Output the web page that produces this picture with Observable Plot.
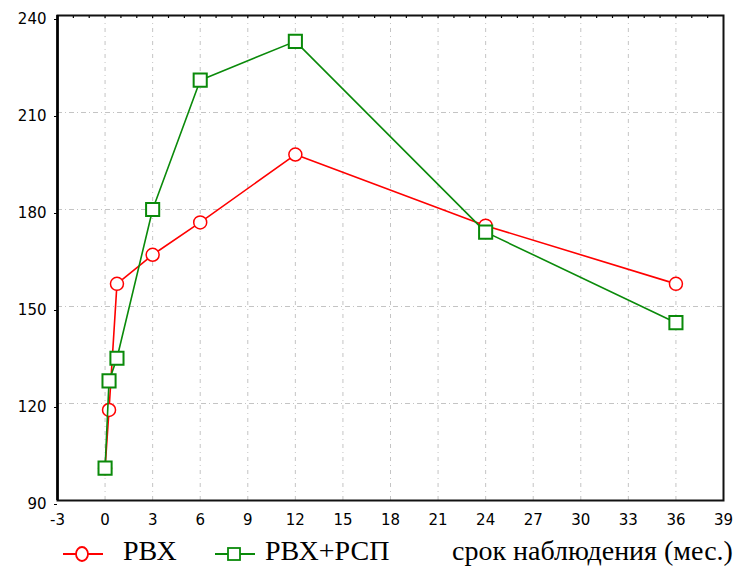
<!DOCTYPE html>
<html>
<head>
<meta charset="utf-8">
<script src="https://cdn.jsdelivr.net/npm/d3@7"></script>
<script src="https://cdn.jsdelivr.net/npm/@observablehq/plot@0.6"></script>
<style>
  body { margin: 0; background: #fff; }
  #wrap { position: relative; width: 738px; height: 567px; overflow: hidden; }
  #wrap svg.plot { position: absolute; left: 0; top: 0; }
  .leg { position: absolute; font-family: "Liberation Serif", "Times New Roman", serif;
         font-size: 28px; line-height: 28px; color: #000; white-space: nowrap; }
  .sw { position: absolute; }
</style>
</head>
<body>
<div id="wrap"></div>
<script>
// Observation times (months) and mean values for both groups
const months = [0, 0.25, 0.75, 3, 6, 12, 24, 36];
const rvh = [100, 118, 157, 166, 176, 197, 175, 157];
const rvhRsp = [100, 127, 134, 180, 220, 232, 173, 145];
const seriesNames = ["РВХ", "РВХ+РСП"];
const axisTitle = "срок наблюдения (мес.)";
const xTicks = d3.range(-3, 40, 3);
const yTicks = [90, 120, 150, 180, 210, 240];
const xGrid = xTicks.filter(d => d >= 0 && d <= 36);
const yGrid = [120, 150, 180, 210];
const topTicks = d3.range(-2, 39);

const red = "#ff0000";
const green = "#0a8a0a";
const gridColor = "#c4c4c4";

const W = 738, H = 532;
const mL = 57, mR = 15, mT = 15, mB = 32;
const innerH = H - mT - mB;

const redData = months.map((m, i) => ({m, v: rvh[i]}));
const greenData = months.map((m, i) => ({m, v: rvhRsp[i]}));
const plain = d => String(d);

const chart = Plot.plot({
  width: W,
  height: H,
  marginLeft: mL,
  marginRight: mR,
  marginTop: mT,
  marginBottom: mB,
  style: {fontFamily: "DejaVu Sans, sans-serif", fontSize: "15px", background: "#fff", color: "#000"},
  x: {domain: [-3, 39], label: null},
  y: {domain: [90, 240], label: null},
  marks: [
    // dotted grid
    Plot.ruleX(xGrid, {stroke: gridColor, strokeWidth: 1, strokeDasharray: "4,4,1,4"}),
    Plot.ruleY(yGrid, {stroke: gridColor, strokeWidth: 1, strokeDasharray: "5,3,1,3"}),
    // small inward ticks along the top edge
    Plot.ruleX(topTicks, {stroke: "#000", strokeWidth: 1.2, insetBottom: innerH - 3}),
    // axes
    Plot.axisX(xTicks, {tickSize: 0, tickPadding: 14, fontSize: 15, letterSpacing: "1px", tickFormat: plain, label: null}),
    Plot.axisY(yTicks, {tickSize: 3, tickPadding: 8, fontSize: 15, letterSpacing: "1px", dy: 4, tickFormat: plain, label: null}),
    // РВХ
    Plot.line(redData, {x: "m", y: "v", stroke: red, strokeWidth: 1.6}),
    Plot.dot(redData, {x: "m", y: "v", r: 6.5, stroke: red, strokeWidth: 1.5, fill: "#fff"}),
    // РВХ+РСП
    Plot.line(greenData, {x: "m", y: "v", stroke: green, strokeWidth: 1.6}),
    Plot.dot(greenData, {x: "m", y: "v", symbol: "square", r: 7.4, stroke: green, strokeWidth: 2, fill: "#fff"}),
    // frame
    Plot.frame({stroke: "#111", strokeWidth: 2}),
    Plot.ruleX([-3], {stroke: "#000", strokeWidth: 2.6})
  ]
});
chart.classList.add("plot");
const wrap = document.getElementById("wrap");
wrap.appendChild(chart);

// legend under the plot
function swatch(x, y, color, kind) {
  const ns = "http://www.w3.org/2000/svg";
  const s = document.createElementNS(ns, "svg");
  s.setAttribute("class", "sw");
  s.setAttribute("width", 44);
  s.setAttribute("height", 20);
  s.style.left = x + "px";
  s.style.top = (y - 10) + "px";
  const l = document.createElementNS(ns, "line");
  l.setAttribute("x1", 2); l.setAttribute("x2", 42);
  l.setAttribute("y1", 10); l.setAttribute("y2", 10);
  l.setAttribute("stroke", color); l.setAttribute("stroke-width", 1.8);
  s.appendChild(l);
  let m;
  if (kind === "circle") {
    m = document.createElementNS(ns, "ellipse");
    m.setAttribute("cx", 21); m.setAttribute("cy", 10);
    m.setAttribute("rx", 6); m.setAttribute("ry", 7);
  } else {
    m = document.createElementNS(ns, "rect");
    m.setAttribute("x", 15); m.setAttribute("y", 4);
    m.setAttribute("width", 12); m.setAttribute("height", 12);
  }
  m.setAttribute("fill", "#fff"); m.setAttribute("stroke", color); m.setAttribute("stroke-width", 1.8);
  s.appendChild(m);
  wrap.appendChild(s);
}
function label(x, text) {
  const d = document.createElement("div");
  d.className = "leg";
  d.style.left = x + "px";
  d.style.top = "537px";
  d.textContent = text;
  wrap.appendChild(d);
}
swatch(61, 554, red, "circle");
label(123, seriesNames[0]);
swatch(213, 554, green, "square");
label(265, seriesNames[1]);
label(452, axisTitle);
</script>
</body>
</html>
